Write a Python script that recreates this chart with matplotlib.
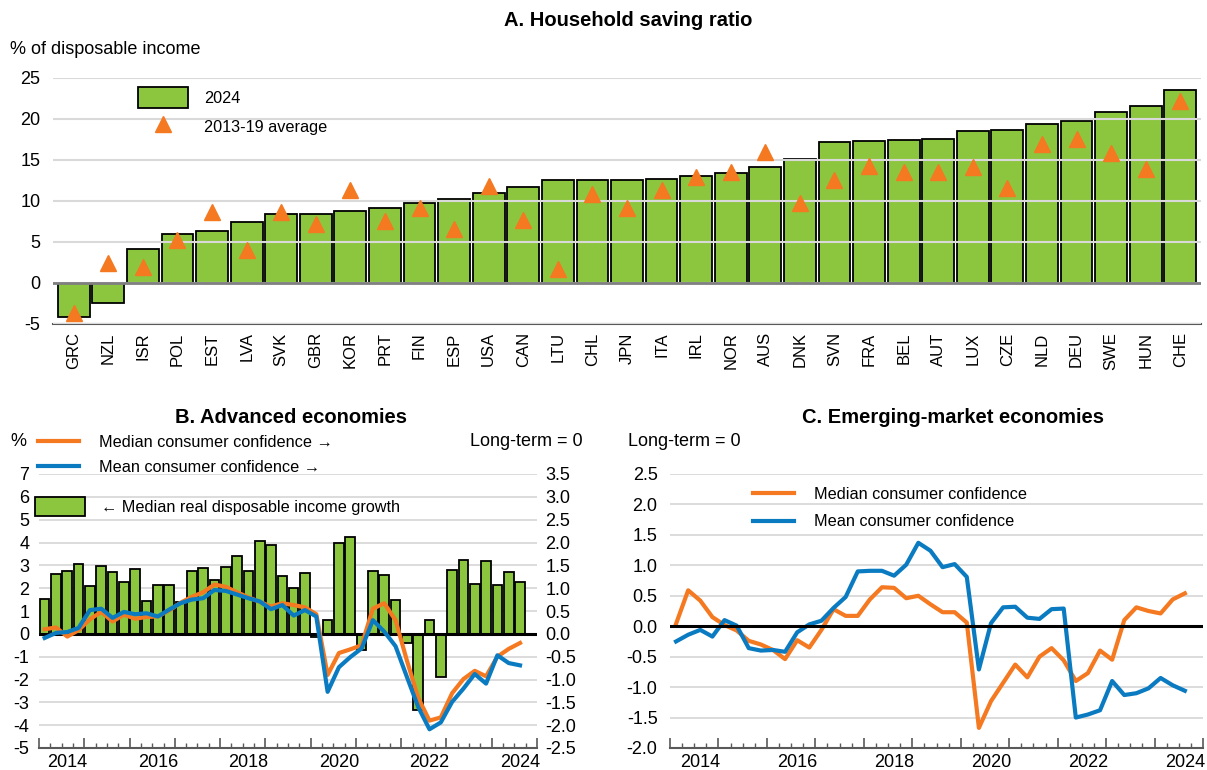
import numpy as np
import matplotlib.pyplot as plt
from matplotlib.ticker import FormatStrFormatter

plt.rcParams['font.family'] = ['Liberation Sans', 'DejaVu Sans']
plt.rcParams['axes.unicode_minus'] = False

# Panel A: household saving ratio, % of disposable income
countries = ['GRC', 'NZL', 'ISR', 'POL', 'EST', 'LVA', 'SVK', 'GBR', 'KOR', 'PRT', 'FIN',
             'ESP', 'USA', 'CAN', 'LTU', 'CHL', 'JPN', 'ITA', 'IRL', 'NOR', 'AUS', 'DNK',
             'SVN', 'FRA', 'BEL', 'AUT', 'LUX', 'CZE', 'NLD', 'DEU', 'SWE', 'HUN', 'CHE']
saving_2024 = [-4.1, -2.4, 4.2, 6.0, 6.3, 7.4, 8.4, 8.4, 8.8, 9.2, 9.8,
               10.2, 11.0, 11.7, 12.5, 12.5, 12.5, 12.7, 13.0, 13.4, 14.2, 15.1,
               17.2, 17.3, 17.4, 17.5, 18.5, 18.6, 19.4, 19.7, 20.9, 21.6, 23.5]
saving_avg_2013_19 = [-3.6, 2.4, 1.9, 5.2, 8.7, 4.0, 8.6, 7.2, 11.4, 7.5, 9.1,
                      6.6, 11.8, 7.7, 1.7, 10.9, 9.2, 11.4, 12.9, 13.5, 16.0, 9.7,
                      12.6, 14.3, 13.5, 13.5, 14.2, 11.6, 17.0, 17.6, 15.9, 13.9, 22.2]

# Panels B and C: quarterly series (43 quarters)
year_labels = ['2014', '2016', '2018', '2020', '2022', '2024']
year_label_pos = [2, 10, 18, 26, 34, 42]

# B: advanced economies
income_growth = [1.53, 2.60, 2.74, 3.04, 2.09, 2.99, 2.70, 2.28, 2.85, 1.43, 2.13, 2.12,
                 1.38, 2.74, 2.89, 2.34, 2.92, 3.43, 2.74, 4.06, 3.91, 2.53, 2.00, 2.67,
                 -0.12, 0.61, 3.97, 4.25, -0.70, 2.74, 2.58, 1.47, -0.39, -3.33, 0.61,
                 -1.91, 2.79, 3.24, 2.20, 3.20, 2.16, 2.71, 2.27]
median_conf_adv = [0.10, 0.14, -0.06, 0.08, 0.32, 0.48, 0.27, 0.42, 0.33, 0.37, 0.38, 0.51,
                   0.68, 0.81, 0.91, 1.08, 1.03, 0.91, 0.80, 0.70, 0.60, 0.67, 0.63, 0.58,
                   0.43, -0.90, -0.42, -0.34, -0.25, 0.55, 0.67, 0.30, -0.58, -1.40, -1.90,
                   -1.83, -1.30, -0.99, -0.81, -0.93, -0.50, -0.33, -0.20]
mean_conf_adv = [-0.09, 0.02, 0.04, 0.13, 0.52, 0.55, 0.35, 0.48, 0.43, 0.45, 0.38, 0.53,
                 0.67, 0.75, 0.78, 0.96, 0.94, 0.86, 0.78, 0.71, 0.54, 0.63, 0.40, 0.52,
                 0.38, -1.27, -0.73, -0.51, -0.32, 0.30, 0.05, -0.27, -0.94, -1.60, -2.09,
                 -1.94, -1.49, -1.20, -0.88, -1.09, -0.47, -0.64, -0.69]

# C: emerging-market economies
median_conf_em = [0.04, 0.59, 0.42, 0.15, 0.02, -0.07, -0.24, -0.30, -0.39, -0.54, -0.23, -0.35,
                  -0.06, 0.28, 0.17, 0.17, 0.44, 0.64, 0.63, 0.46, 0.50, 0.36, 0.23, 0.23,
                  0.06, -1.67, -1.23, -0.93, -0.63, -0.84, -0.50, -0.36, -0.56, -0.90, -0.77,
                  -0.40, -0.55, 0.10, 0.31, 0.25, 0.21, 0.44, 0.54]
mean_conf_em = [-0.25, -0.14, -0.06, -0.17, 0.10, 0.01, -0.36, -0.40, -0.39, -0.42, -0.10, 0.03,
                0.09, 0.30, 0.48, 0.90, 0.91, 0.91, 0.83, 1.01, 1.37, 1.24, 0.97, 1.02,
                0.81, -0.71, 0.05, 0.31, 0.32, 0.14, 0.12, 0.28, 0.29, -1.50, -1.45, -1.38,
                -0.90, -1.13, -1.10, -1.02, -0.85, -0.97, -1.06]

GREEN = '#8CC63F'
ORANGE = '#F47920'
BLUE = '#0B7BC1'
GRID = '#D9D9D9'
AXIS = '#595959'

W, H = 1207, 770
fig = plt.figure(figsize=(W / 100, H / 100), dpi=100)


def box(x0, y0, x1, y1):
    # pixel box (top-left origin) -> figure fraction rect
    return [x0 / W, 1 - y1 / H, (x1 - x0) / W, (y1 - y0) / H]


def clean(ax):
    for s in ['top', 'left', 'right']:
        ax.spines[s].set_visible(False)
    ax.spines['bottom'].set_color(AXIS)
    ax.spines['bottom'].set_linewidth(1.5)


# ---- Panel A ----
axA = fig.add_axes(box(53, 78, 1201, 324))
xa = np.arange(len(countries))
bars_a = axA.bar(xa, saving_2024, width=0.92, color=GREEN, edgecolor='black', linewidth=1.3,
                 zorder=1)
tri_a, = axA.plot(xa, saving_avg_2013_19, ls='none', marker='^', ms=11, color=ORANGE, zorder=4)
axA.axhline(0, color='#7F7F7F', lw=2, zorder=3)
axA.set_xlim(-0.6, len(countries) - 0.4)
axA.set_ylim(-5, 25)
axA.set_yticks(np.arange(-5, 26, 5))
axA.set_xticks(xa)
axA.set_xticklabels(countries, rotation=90, fontsize=12)
axA.yaxis.grid(True, color=GRID, lw=1.5)
axA.set_axisbelow(False)
axA.tick_params(axis='both', length=0)
axA.tick_params(axis='y', labelsize=13, pad=9)
axA.tick_params(axis='x', pad=6)
clean(axA)
axA.legend([bars_a, tri_a], ['2024', '2013-19 average'],
           loc='upper left', bbox_to_anchor=(138 / W, 1 - 87 / H), bbox_transform=fig.transFigure,
           frameon=False, fontsize=11.7, handlelength=3.1, handleheight=1.65,
           handletextpad=0.95, labelspacing=0.45, borderpad=0, borderaxespad=0)


def time_axis(ax):
    ax.set_xlim(-0.5, 43.5)
    ax.set_xticks(np.arange(-0.5, 44, 4))
    ax.set_xticks(np.arange(-0.5, 44, 1), minor=True)
    ax.tick_params(axis='x', which='major', direction='in', length=7, width=1.2,
                   color=AXIS, labelbottom=False)
    ax.tick_params(axis='x', which='minor', direction='in', length=3.5, width=1, color=AXIS)
    for pos, lab in zip(year_label_pos, year_labels):
        ax.text(pos, -0.052, lab, transform=ax.get_xaxis_transform(),
                ha='center', va='center', fontsize=13)


# ---- Panel B ----
axB = fig.add_axes(box(39, 474, 537, 748))
q = np.arange(len(income_growth))
bars_b = axB.bar(q, income_growth, width=0.85, color=GREEN, edgecolor='black',
                 linewidth=1.3, zorder=2)
axB.axhline(0, color='black', lw=2.2, zorder=3)
axB.set_ylim(-5, 7)
axB.set_yticks(range(-5, 8))
axB.yaxis.grid(True, color=GRID, lw=1.3)
axB.set_axisbelow(True)
axB.tick_params(axis='y', length=0, labelsize=13, pad=7)
clean(axB)
time_axis(axB)

axB2 = axB.twinx()
l_med, = axB2.plot(q, median_conf_adv, color=ORANGE, lw=3)
l_mean, = axB2.plot(q, mean_conf_adv, color=BLUE, lw=3)
axB2.set_ylim(-2.5, 3.5)
axB2.set_yticks(np.arange(-2.5, 3.6, 0.5))
axB2.yaxis.set_major_formatter(FormatStrFormatter('%.1f'))
axB2.tick_params(axis='y', length=0, labelsize=13, pad=6)
for s in axB2.spines.values():
    s.set_visible(False)

leg1 = axB2.legend([l_med, l_mean], ['Median consumer confidence \u2192', 'Mean consumer confidence \u2192'],
                   loc='upper left', bbox_to_anchor=(38 / W, 1 - 435 / H), bbox_transform=fig.transFigure,
                   frameon=False, fontsize=11.7, handlelength=2.5, handletextpad=1.25,
                   labelspacing=0.6, borderpad=0, borderaxespad=0)
axB2.add_artist(leg1)
axB2.legend([bars_b], ['\u2190 Median real disposable income growth'],
            loc='upper left', bbox_to_anchor=(35 / W, 1 - 497 / H), bbox_transform=fig.transFigure,
            frameon=False, fontsize=11.7, handlelength=3.1, handleheight=1.45,
            handletextpad=0.95, borderpad=0, borderaxespad=0)

# ---- Panel C ----
axC = fig.add_axes(box(670, 474, 1203, 748))
axC.plot(q, median_conf_em, color=ORANGE, lw=3, label='Median consumer confidence')
axC.plot(q, mean_conf_em, color=BLUE, lw=3, label='Mean consumer confidence')
axC.axhline(0, color='black', lw=2.2, zorder=3)
axC.set_ylim(-2, 2.5)
axC.set_yticks(np.arange(-2, 2.6, 0.5))
axC.yaxis.set_major_formatter(FormatStrFormatter('%.1f'))
axC.yaxis.grid(True, color=GRID, lw=1.3)
axC.set_axisbelow(True)
axC.tick_params(axis='y', length=0, labelsize=13, pad=9)
clean(axC)
time_axis(axC)
axC.legend(loc='upper left', bbox_to_anchor=(753 / W, 1 - 487 / H), bbox_transform=fig.transFigure,
           frameon=False, fontsize=11.7, handlelength=2.5, handletextpad=1.25,
           labelspacing=0.75, borderpad=0, borderaxespad=0)

# ---- titles and unit notes ----
fig.text(628 / W, 1 - 20 / H, 'A. Household saving ratio', ha='center', va='center',
         fontsize=14.5, fontweight='bold')
fig.text(10 / W, 1 - 49 / H, '% of disposable income', va='center', fontsize=13)
fig.text(291 / W, 1 - 418 / H, 'B. Advanced economies', ha='center', va='center',
         fontsize=14.5, fontweight='bold')
fig.text(953 / W, 1 - 418 / H, 'C. Emerging-market economies', ha='center', va='center',
         fontsize=14.5, fontweight='bold')
fig.text(10 / W, 1 - 441 / H, '%', va='center', fontsize=13)
fig.text(583 / W, 1 - 441 / H, 'Long-term = 0', ha='right', va='center', fontsize=13)
fig.text(628 / W, 1 - 441 / H, 'Long-term = 0', ha='left', va='center', fontsize=13)

fig.savefig('out.png', dpi=100)
